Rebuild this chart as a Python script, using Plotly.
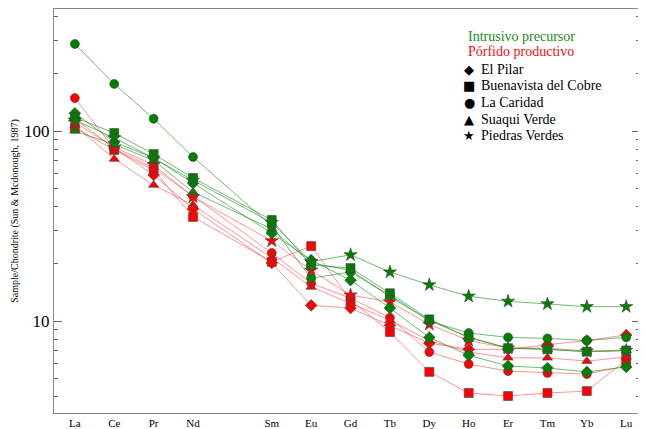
import plotly.graph_objects as go

elements = ["La", "Ce", "Pr", "Nd", "Sm", "Eu", "Gd", "Tb", "Dy", "Ho", "Er", "Tm", "Yb", "Lu"]
# position index (Pm gap between Nd and Sm)
positions = [0, 1, 2, 3, 5, 6, 7, 8, 9, 10, 11, 12, 13, 14]

# Intrusivo precursor (green)
g_pilar = [124, 87.5, 72.1, 53.2, 29.0, 20.9, 16.4, 11.7, 8.2, 6.6, 5.8, 5.66, 5.4, 5.73]
g_buenavista = [118, 97.6, 75.6, 56.6, 34.0, 19.7, 19.0, 14.0, 10.2, 8.2, 7.2, 7.1, 6.9, 7.0]
g_caridad = [287, 177, 116, 73, 31.6, 16.8, 18.1, 13.7, 10.0, 8.65, 8.2, 8.1, 7.9, 8.2]
g_suaqui = [100, 85, 70, 47.7, 30.5, 20.2, 18.5, 13.4, 10.1, 8.2, 7.2, 7.1, 6.9, 7.0]
g_piedras = [114, 92, 72, 55, 33, 20.5, 22.3, 18.1, 15.5, 13.5, 12.7, 12.3, 11.9, 11.9]

# Pórfido productivo (red)
r_pilar = [116, 81.4, 58.7, 38.9, 20.2, 12.1, 11.7, 9.5, 7.65, 7.1, 7.1, 7.5, 7.9, 8.44]
r_buenavista = [104, 79.4, 62.3, 35.3, 20.5, 24.8, 12.9, 8.75, 5.4, 4.18, 4.03, 4.18, 4.28, 6.24]
r_caridad = [149, 80.4, 63.9, 45.5, 22.8, 15.8, 13.2, 10.4, 6.87, 5.94, 5.45, 5.33, 5.26, 5.8]
r_suaqui = [107, 71.2, 51.9, 40.8, 21.5, 15.1, 12.4, 10.1, 7.9, 6.87, 6.4, 6.4, 6.15, 6.47]
r_piedras = [111, 82, 66.3, 45, 26.4, 18.5, 13.7, 12.6, 9.6, 7.9, 7.2, 7.2, 6.95, 7.0]

localities = ["El Pilar", "Buenavista del Cobre", "La Caridad", "Suaqui Verde", "Piedras Verdes"]
symbols = ["diamond", "square", "circle", "triangle-up", "star"]
legend_glyphs = ["◆", "■", "●", "▲", "★"]
green_series = [g_pilar, g_buenavista, g_caridad, g_suaqui, g_piedras]
red_series = [r_pilar, r_buenavista, r_caridad, r_suaqui, r_piedras]

GREEN = "#008000"
RED = "#ff0000"
GREEN_LINE = "rgba(40,150,40,0.65)"
RED_LINE = "rgba(255,60,60,0.55)"
SERIF = "Liberation Serif"

fig = go.Figure()

for name, sym, vals in zip(localities, symbols, red_series):
    fig.add_trace(go.Scatter(
        x=positions, y=vals, mode="lines+markers", showlegend=False,
        line=dict(color=RED_LINE, width=1),
        marker=dict(symbol=sym, size=10 if sym == "star" else 9, color=RED,
                    line=dict(color="#444", width=0.6)),
        name=name + " (productivo)"))

for name, sym, vals in zip(localities, symbols, green_series):
    fig.add_trace(go.Scatter(
        x=positions, y=vals, mode="lines+markers", showlegend=False,
        line=dict(color=GREEN_LINE, width=1),
        marker=dict(symbol=sym, size=10 if sym == "star" else 9, color=GREEN,
                    line=dict(color="#444", width=0.6)),
        name=name + " (precursor)"))

# page body has an 8px margin: figure origin sits at screen (8, 8)
OFF = 8
FIG_W, FIG_H = 646 - OFF, 429 - OFF
# desired plot area in screen pixels
L, R, T, B = 54, 640, 9, 413
W, H = R - L, B - T


def px_x(p):
    return (p - L) / W


def px_y(p):
    return 1 - (p - T) / H


annotations = [
    dict(text="Intrusivo precursor", xref="paper", yref="paper",
         x=px_x(466), y=px_y(36), xanchor="left", yanchor="middle", showarrow=False,
         font=dict(family=SERIF, size=14, color="#1a8a1a")),
    dict(text="Pórfido productivo", xref="paper", yref="paper",
         x=px_x(466), y=px_y(52), xanchor="left", yanchor="middle", showarrow=False,
         font=dict(family=SERIF, size=14, color="#ee1111")),
]
row_y = [69, 86, 102, 119, 135]
for glyph, name, yy in zip(legend_glyphs, localities, row_y):
    annotations.append(dict(text=glyph, xref="paper", yref="paper",
                            x=px_x(469), y=px_y(yy), xanchor="center", yanchor="middle",
                            showarrow=False,
                            font=dict(family="DejaVu Sans", size=13, color="black")))
    annotations.append(dict(text=name, xref="paper", yref="paper",
                            x=px_x(479), y=px_y(yy), xanchor="left", yanchor="middle",
                            showarrow=False,
                            font=dict(family=SERIF, size=14, color="black")))

fig.update_layout(
    width=FIG_W, height=FIG_H,
    margin=dict(l=L - OFF, r=FIG_W - (R - OFF), t=T - OFF, b=FIG_H - (B - OFF)),
    paper_bgcolor="white", plot_bgcolor="white",
    font=dict(family=SERIF, color="black"),
    showlegend=False,
    annotations=annotations,
)

fig.update_xaxes(
    range=[-0.53, 14.35], tickvals=positions, ticktext=elements,
    showline=True, linecolor="#888", linewidth=1, mirror=True,
    ticks="", showgrid=False, zeroline=False, automargin=False,
    tickfont=dict(family=SERIF, size=11, color="black"),
)
fig.update_yaxes(
    type="log", range=[0.516, 2.642], tickvals=[10, 100], ticktext=["10", "100"],
    showline=True, linecolor="#888", linewidth=1, mirror="allticks",
    ticks="inside", ticklen=8, tickcolor="#666", showgrid=False, zeroline=False,
    automargin=False,
    tickfont=dict(family=SERIF, size=17, color="black"),
    minor=dict(ticks="inside", ticklen=4, tickcolor="#666",
               tickvals=[4, 5, 6, 7, 8, 9, 20, 30, 40, 50, 60, 70, 80, 90, 200, 300, 400]),
    title=dict(text="Sample/Chondrite (Sun & Mcdonough, 1987)",
               font=dict(family=SERIF, size=10, color="black"), standoff=3),
)

fig.write_html("out.html")
